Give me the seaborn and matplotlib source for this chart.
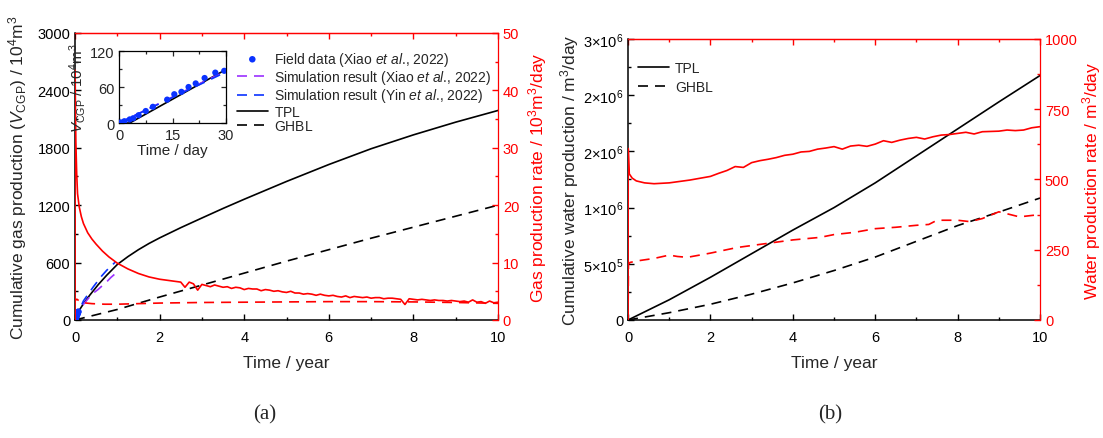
import numpy as np
import pandas as pd
import matplotlib
matplotlib.use("Agg")
import matplotlib.pyplot as plt
import seaborn as sns
from matplotlib.ticker import MultipleLocator, FixedLocator, FixedFormatter

# ---------------- (a) gas production ----------------
# cumulative gas production, 10^4 m^3
gas_t = [0, 0.0082, 0.082, 0.2, 0.35, 0.55, 0.75, 1.0, 1.25, 1.5, 1.75, 2, 2.5, 3, 3.5, 4,
         5, 6, 7, 8, 9, 10]
gas_tpl = [0, 0, 89, 170, 260, 370, 468, 580, 662, 735, 800, 858, 965, 1066, 1166, 1262,
           1448, 1625, 1790, 1935, 2068, 2190]
gas_ghbl_t = [0, 1, 2, 3, 4, 5, 6, 7, 8, 9, 10]
gas_ghbl = [0, 110, 240, 365, 490, 615, 735, 855, 970, 1085, 1200]

# field data and earlier simulations (time in days)
field_day = [0.5, 1.5, 3, 4, 5.5, 7.5, 9.5, 13.5, 15.5, 17.5, 19.5, 21.5, 24, 27, 29.5]
field_vcgp = [1, 3, 6, 8, 13, 20, 27, 39, 48, 52, 60, 66, 75, 84, 87]
xiao_day = [0, 30, 73, 146, 200, 274, 310, 358]
xiao_vcgp = [0, 87, 165, 270, 320, 400, 445, 495]
yin_day = [0, 30, 73, 157, 230, 274, 310, 347]
yin_vcgp = [0, 85, 200, 345, 460, 520, 560, 605]

# gas production rate, 10^3 m^3/day
rate_a_t_head = [0, 0.003, 0.01, 0.02, 0.04, 0.06, 0.1, 0.15, 0.2, 0.3, 0.4, 0.5,
                 0.65, 0.8, 1.0, 1.25, 1.5, 1.75, 2.0, 2.2, 2.4]
rate_a_head = [0, 43.5, 37, 31, 25.5, 22, 19.7, 18.0, 16.8, 15.2, 14.1, 13.2,
               12.0, 11.0, 9.9, 8.9, 8.1, 7.5, 7.1, 6.9, 6.7]
# yearly tenths from 2.5 to 10
rate_a_tail = [6.6, 5.7, 6.6, 6.3, 5.2, 6.2, 6.0, 5.8, 6.1, 5.9,
               5.7, 5.8, 5.5, 5.7, 5.6, 5.3, 5.5, 5.4, 5.4, 5.1,
               5.3, 5.2, 5.0, 5.1, 4.9, 4.8, 5.0, 4.7, 4.7, 4.5,
               4.6, 4.5, 4.3, 4.5, 4.3, 4.2, 4.3, 4.1, 4.0, 4.2,
               3.9, 4.1, 4.0, 3.9, 4.0, 3.8, 3.9, 3.9, 3.7, 3.8,
               3.8, 3.7, 3.6, 2.7, 3.7, 3.6, 3.5, 3.6, 3.5, 3.4,
               3.5, 3.4, 3.4, 3.3, 3.4, 3.3, 3.2, 3.3, 3.1, 3.5,
               3.1, 3.2, 2.9, 3.3, 3.0, 3.1]
rate_a_ghbl_t = [0, 0.005, 0.02, 0.05, 0.1, 0.2, 0.4, 0.7, 1.0, 1.5, 2, 3, 4, 5, 6, 7, 8, 9, 10]
rate_a_ghbl = [0, 3.8, 3.5, 3.6, 3.3, 3.0, 2.85, 2.75, 2.75, 2.85, 2.95, 3.05, 3.1, 3.15,
               3.2, 3.2, 3.15, 3.05, 2.9]

# ---------------- (b) water production ----------------
water_t = [0, 1, 2, 3, 4, 5, 6, 7, 8, 9, 10]
water_tpl = [0, 1.8e5, 3.8e5, 5.9e5, 8.0e5, 1.0e6, 1.22e6, 1.46e6, 1.70e6, 1.94e6, 2.175e6]
water_ghbl = [0, 6.5e4, 1.4e5, 2.3e5, 3.3e5, 4.4e5, 5.6e5, 7.0e5, 8.4e5, 9.6e5, 1.085e6]

rate_b_t_head = [0, 0.005, 0.03, 0.1, 0.2, 0.4, 0.63, 1.0, 1.5, 2.0]
rate_b_head = [0, 610, 520, 505, 495, 488, 485, 488, 498, 511]
# every 0.2 year from 2.2 to 10
rate_b_tail = [522, 532, 546, 543, 560, 567, 572, 578, 586, 590, 598, 600, 608, 612, 617,
               608, 619, 622, 618, 626, 638, 632, 640, 646, 650, 644, 652, 658, 660, 664,
               668, 662, 670, 671, 672, 676, 674, 676, 684, 688]
rate_b_ghbl_t = [0, 0.01, 0.05, 0.3, 0.63, 1.0, 1.2, 1.44, 2.0, 2.65, 3.45, 4.0, 4.66, 5.0,
                 5.5, 6.0, 6.5, 7.0, 7.3, 7.5, 8.0, 8.3, 8.6, 9.0, 9.2, 9.5, 9.8, 10.0]
rate_b_ghbl = [0, 199, 205, 212, 219, 231, 226, 223, 238, 258, 274, 285, 294, 304,
               312, 325, 330, 337, 340, 355, 355, 350, 361, 385, 378, 367, 372, 375]

rate_a_t = rate_a_t_head + list(np.round(np.arange(2.5, 10.001, 0.1), 2))
rate_a = rate_a_head + rate_a_tail
rate_b_t = rate_b_t_head + list(np.round(np.arange(2.2, 10.001, 0.2), 2))
rate_b = rate_b_head + rate_b_tail

sns.set_style("ticks")
plt.rcParams["font.family"] = ["Liberation Sans", "DejaVu Sans"]
plt.rcParams["mathtext.fontset"] = "custom"
plt.rcParams["mathtext.rm"] = "Liberation Sans"
plt.rcParams["mathtext.it"] = "Liberation Sans:italic"
plt.rcParams["mathtext.bf"] = "Liberation Sans:bold"

RED = "#ff0000"
BLUE = "#0a32ff"
PURPLE = "#9b30ff"
LW = 1.2
DASH = (0, (6, 4.2))
TICK_FS = 10.5
LABEL_FS = 12.5

fig = plt.figure(figsize=(11.03, 4.39), dpi=100)
ax_a = fig.add_axes([0.068, 0.2688, 0.3835, 0.6538])
ax_b = fig.add_axes([0.5694, 0.2688, 0.3735, 0.6401])


def frame(ax, ax2):
    for s in ("top", "right"):
        ax.spines[s].set_visible(False)
    for s in ("left", "bottom"):
        ax.spines[s].set_color("black")
        ax.spines[s].set_linewidth(1.1)
        ax2.spines[s].set_visible(False)
    for s in ("top", "right"):
        ax2.spines[s].set_color(RED)
        ax2.spines[s].set_linewidth(0.9)
    ax.tick_params(axis="both", which="both", direction="in", colors="black",
                   labelsize=TICK_FS, width=1.0)
    ax.tick_params(axis="x", which="both", pad=7)
    ax.tick_params(which="major", length=4.5)
    ax.tick_params(which="minor", length=2.5)
    ax2.tick_params(axis="y", which="both", direction="in", colors=RED,
                    labelsize=TICK_FS, width=1.0)
    ax2.tick_params(which="major", length=4.5)
    ax2.tick_params(which="minor", length=2.5)
    top = ax.secondary_xaxis("top")
    top.xaxis.set_major_locator(MultipleLocator(2))
    top.xaxis.set_minor_locator(MultipleLocator(1))
    top.tick_params(which="both", direction="in", colors=RED, labeltop=False, width=1.0)
    top.tick_params(which="major", length=4.5)
    top.tick_params(which="minor", length=2.5)
    top.spines["top"].set_color(RED)
    top.spines["top"].set_linewidth(0.9)
    ax.set_xlim(0, 10)
    ax.xaxis.set_major_locator(MultipleLocator(2))
    ax.xaxis.set_minor_locator(MultipleLocator(1))
    ax.set_xlabel("Time / year", fontsize=LABEL_FS, labelpad=8)


def line(ax, x, y, color, dashed=False):
    kw = dict(linestyle=DASH) if dashed else {}
    sns.lineplot(x=x, y=y, ax=ax, color=color, lw=LW, sort=False, estimator=None, **kw)
    return ax.lines[-1]


# ---------- panel (a) ----------
ax2_a = ax_a.twinx()
h_tpl = line(ax_a, gas_t, gas_tpl, "black")
h_ghbl = line(ax_a, gas_ghbl_t, gas_ghbl, "black", dashed=True)
h_xiao = line(ax_a, np.array(xiao_day) / 365, xiao_vcgp, PURPLE, dashed=True)
h_yin = line(ax_a, np.array(yin_day) / 365, yin_vcgp, BLUE, dashed=True)
sns.scatterplot(x=np.array(field_day) / 365, y=field_vcgp, ax=ax_a, color=BLUE, s=22,
                edgecolor="none", zorder=4)
h_field = ax_a.collections[-1]

line(ax2_a, rate_a_t, rate_a, RED)
line(ax2_a, rate_a_ghbl_t, rate_a_ghbl, RED, dashed=True)

ax_a.set_ylim(0, 3000)
ax_a.yaxis.set_major_locator(MultipleLocator(600))
ax_a.yaxis.set_minor_locator(MultipleLocator(300))
ax2_a.set_ylim(0, 50)
ax2_a.yaxis.set_major_locator(MultipleLocator(10))
ax2_a.yaxis.set_minor_locator(MultipleLocator(5))
frame(ax_a, ax2_a)
ax_a.set_ylabel("Cumulative gas production ($V_{\\mathrm{CGP}}$) / 10$^{4}$m$^{3}$",
                fontsize=LABEL_FS, labelpad=6)
ax2_a.set_ylabel("Gas production rate / 10$^{3}$m$^{3}$/day", fontsize=LABEL_FS,
                 color=RED, labelpad=5)

ax2_a.legend([h_field, h_xiao, h_yin, h_tpl, h_ghbl],
             ["Field data (Xiao $\\mathit{et\\ al}$., 2022)",
              "Simulation result (Xiao $\\mathit{et\\ al}$., 2022)",
              "Simulation result (Yin $\\mathit{et\\ al}$., 2022)",
              "$\\mathrm{TPL}$", "$\\mathrm{GHBL}$"],
             loc="upper left", bbox_to_anchor=(0.2149, 0.884),
             bbox_transform=fig.transFigure, frameon=False, fontsize=10,
             borderpad=0, borderaxespad=0, labelspacing=0.02, handlelength=2.2,
             handletextpad=0.45, scatterpoints=1)

# inset: first month
ins = fig.add_axes([0.1079, 0.7175, 0.097, 0.164])
line(ins, np.array(gas_t) * 365, gas_tpl, "black")
line(ins, xiao_day, xiao_vcgp, PURPLE, dashed=True)
line(ins, yin_day, yin_vcgp, BLUE, dashed=True)
sns.scatterplot(x=field_day, y=field_vcgp, ax=ins, color=BLUE, s=20, edgecolor="none",
                zorder=4)
ins.set_xlim(0, 30)
ins.set_ylim(0, 120)
ins.xaxis.set_major_locator(MultipleLocator(15))
ins.xaxis.set_minor_locator(MultipleLocator(7.5))
ins.yaxis.set_major_locator(MultipleLocator(60))
ins.yaxis.set_minor_locator(MultipleLocator(30))
ins.tick_params(which="both", direction="in", top=True, right=True, labelsize=TICK_FS,
                width=0.9)
ins.tick_params(which="major", length=3.5)
ins.tick_params(which="minor", length=2)
for s in ins.spines.values():
    s.set_linewidth(0.9)
    s.set_color("black")
ins.set_xlabel("Time / day", fontsize=11, labelpad=1)
ins.set_ylabel("$V_{\\mathrm{CGP}}$ / 10$^{4}$m$^{3}$", fontsize=11, labelpad=1)

# ---------- panel (b) ----------
ax2_b = ax_b.twinx()
hb_tpl = line(ax_b, water_t, water_tpl, "black")
hb_ghbl = line(ax_b, water_t, water_ghbl, "black", dashed=True)
line(ax2_b, rate_b_t, rate_b, RED)
line(ax2_b, rate_b_ghbl_t, rate_b_ghbl, RED, dashed=True)

water_ticks = [0, 5e5, 1e6, 1.5e6, 2e6, 2.5e6]
water_ticklabels = ["0", "5×10$^{5}$", "1×10$^{6}$", "2×10$^{6}$", "2×10$^{6}$", "3×10$^{6}$"]
ax_b.set_ylim(0, 2.5e6)
ax_b.yaxis.set_major_locator(FixedLocator(water_ticks))
ax_b.yaxis.set_major_formatter(FixedFormatter(water_ticklabels))
ax_b.yaxis.set_minor_locator(MultipleLocator(2.5e5))
ax2_b.set_ylim(0, 1000)
ax2_b.yaxis.set_major_locator(MultipleLocator(250))
ax2_b.yaxis.set_minor_locator(MultipleLocator(125))
frame(ax_b, ax2_b)
ax_b.set_ylabel("Cumulative water production / m$^{3}$/day", fontsize=LABEL_FS, labelpad=1)
ax2_b.set_ylabel("Water production rate / m$^{3}$/day", fontsize=LABEL_FS, color=RED,
                 labelpad=2)
ax2_b.legend([hb_tpl, hb_ghbl], ["TPL", "GHBL"], loc="upper left",
             bbox_to_anchor=(0.5784, 0.858), bbox_transform=fig.transFigure,
             frameon=False, fontsize=10, borderpad=0, borderaxespad=0,
             labelspacing=0.3, handlelength=2.2, handletextpad=0.45)

fig.text(0.240, 0.056, "(a)", family="Liberation Serif", fontsize=15, ha="center",
         va="center")
fig.text(0.7525, 0.056, "(b)", family="Liberation Serif", fontsize=15, ha="center",
         va="center")

fig.savefig("out.png", dpi=100)
